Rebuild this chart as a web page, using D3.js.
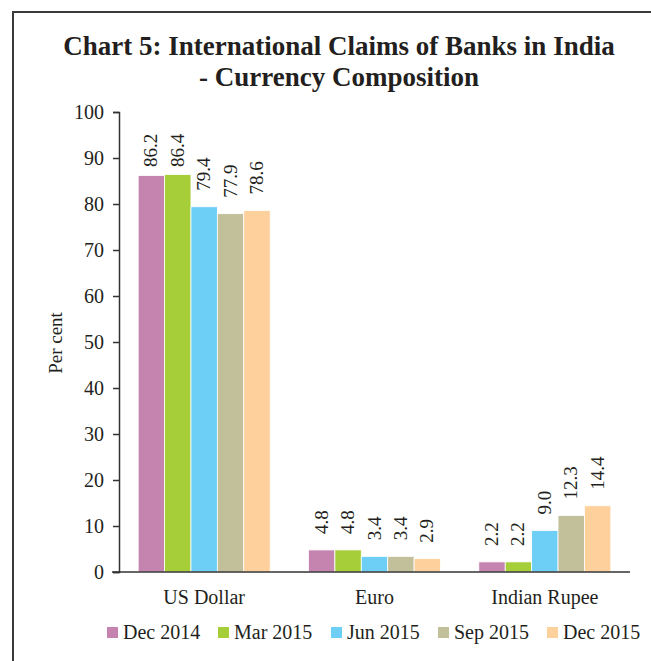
<!DOCTYPE html>
<html>
<head>
<meta charset="utf-8">
<script src="https://cdn.jsdelivr.net/npm/d3@7"></script>
<style>
  body { margin: 0; background: #fff; }
  text { font-family: "Liberation Serif", serif; fill: #231f20; }
</style>
</head>
<body>
<script>
const width = 651;
const height = 661;

const categories = ['US Dollar', 'Euro', 'Indian Rupee'];
const series_names = ['Dec 2014', 'Mar 2015', 'Jun 2015', 'Sep 2015', 'Dec 2015'];
const series_colors = ['#c584b0', '#a6ce39', '#6dcff6', '#c2bf9b', '#fdd09c'];
const values = [
    [86.2, 4.8, 2.2],   // Dec 2014
    [86.4, 4.8, 2.2],   // Mar 2015
    [79.4, 3.4, 9.0],   // Jun 2015
    [77.9, 3.4, 12.3],  // Sep 2015
    [78.6, 2.9, 14.4]   // Dec 2015
];
const y_ticks = [0, 10, 20, 30, 40, 50, 60, 70, 80, 90, 100];
const title_lines = ['Chart 5: International Claims of Banks in India', '- Currency Composition'];

const plot = {left: 119, right: 630, top: 112, bottom: 572};

const svg = d3.select('body')
    .append('svg')
    .attr('width', width)
    .attr('height', height);

// frame
svg.append('rect')
    .attr('x', 13)
    .attr('y', 12)
    .attr('width', 660)
    .attr('height', 670)
    .attr('fill', 'none')
    .attr('stroke', '#3a3a3a')
    .attr('stroke-width', 2);

// title
svg.append('g')
    .attr('class', 'title')
    .selectAll('text')
    .data(title_lines)
    .enter()
    .append('text')
    .attr('x', 339)
    .attr('y', (d, i) => 55 + i * 31)
    .attr('text-anchor', 'middle')
    .attr('font-weight', 'bold')
    .attr('font-size', 27)
    .text(d => d);

const x0 = d3.scaleBand()
    .domain(categories)
    .range([plot.left, plot.right])
    .paddingInner(0.225)
    .paddingOuter(0.1125);
const x1 = d3.scaleBand()
    .domain(series_names)
    .range([0, x0.bandwidth()]);
const y = d3.scaleLinear()
    .domain([0, 100])
    .range([plot.bottom, plot.top]);

// y axis
const y_axis = svg.append('g')
    .attr('transform', `translate(${plot.left},0)`)
    .call(d3.axisLeft(y).tickValues(y_ticks).tickSize(6).tickPadding(9));
y_axis.select('.domain').attr('stroke', '#333').attr('stroke-width', 1.5);
y_axis.selectAll('.tick line').attr('stroke', '#333').attr('stroke-width', 1.5);
y_axis.selectAll('.tick text')
    .attr('font-family', '"Liberation Serif", serif')
    .attr('font-size', 20)
    .attr('fill', '#231f20');

svg.append('text')
    .attr('transform', 'translate(62,343) rotate(-90)')
    .attr('text-anchor', 'middle')
    .attr('font-size', 19)
    .text('Per cent');

// bars
const groups = svg.append('g')
    .attr('class', 'bars')
    .selectAll('g')
    .data(series_names)
    .enter()
    .append('g')
    .attr('fill', (d, i) => series_colors[i]);

groups.selectAll('rect')
    .data((s, si) => categories.map((c, ci) => ({cat: c, series: s, v: values[si][ci]})))
    .enter()
    .append('rect')
    .attr('x', d => x0(d.cat) + x1(d.series))
    .attr('y', d => y(d.v))
    .attr('width', x1.bandwidth())
    .attr('height', d => y(0) - y(d.v))
    .attr('stroke', '#fff')
    .attr('stroke-width', 0.8);

// value labels, rotated; kept inside the plot at the top
groups.selectAll('text')
    .data((s, si) => categories.map((c, ci) => ({cat: c, series: s, v: values[si][ci]})))
    .enter()
    .append('text')
    .attr('transform', d => {
        const cx = x0(d.cat) + x1(d.series) + x1.bandwidth() / 2 + 6;
        const cy = Math.max(y(d.v) - 16, 167);
        return `translate(${cx},${cy}) rotate(-90)`;
    })
    .attr('font-size', 19)
    .attr('fill', '#231f20')
    .text(d => d.v.toFixed(1));

// x axis
svg.append('line')
    .attr('x1', plot.left - 7)
    .attr('x2', plot.right)
    .attr('y1', y(0))
    .attr('y2', y(0))
    .attr('stroke', '#333')
    .attr('stroke-width', 1.5);

svg.append('g')
    .attr('class', 'x_labels')
    .selectAll('text')
    .data(categories)
    .enter()
    .append('text')
    .attr('x', d => x0(d) + x0.bandwidth() / 2)
    .attr('y', 604)
    .attr('text-anchor', 'middle')
    .attr('font-size', 20)
    .text(d => d);

// legend
const legend_x = [107, 218, 331, 438, 547];
const legend = svg.append('g')
    .attr('class', 'legend')
    .selectAll('g')
    .data(series_names)
    .enter()
    .append('g')
    .attr('transform', (d, i) => `translate(${legend_x[i]},627)`);
legend.append('rect')
    .attr('width', 11)
    .attr('height', 11)
    .attr('fill', (d, i) => series_colors[i]);
legend.append('text')
    .attr('x', 16)
    .attr('y', 12)
    .attr('font-size', 20)
    .text(d => d);
</script>
</body>
</html>
